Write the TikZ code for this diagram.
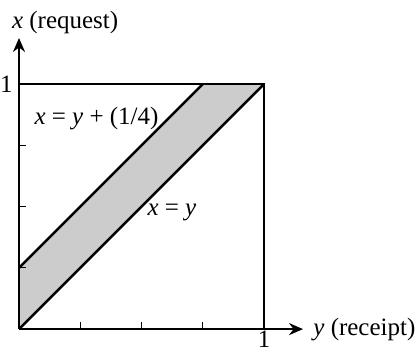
\documentclass[tikz,border=0pt]{standalone}
\usepackage{fontspec}
\setmainfont{Liberation Serif}
\usetikzlibrary{arrows.meta,positioning}
\tikzset{axis/.style={line width=1pt,-{Stealth[length=7pt,width=6pt]}},edge/.style={line width=1.3pt},tick/.style={line width=0.6pt},lbl/.style={font=\fontsize{12.5}{15}\selectfont,inner sep=1pt}}

\begin{document}
\begin{tikzpicture}[x=4.31cm,y=4.31cm]
\useasboundingbox (-0.0776,-0.0898) rectangle (1.620,1.343);
\coordinate (o) at (0,0);\coordinate (xt) at (0,1.188);\coordinate (yt) at (1.159,0);
\coordinate (p) at (0,0.25);\coordinate (q) at (0.75,1);\coordinate (r) at (1,1);
\coordinate (s) at (1,0);\coordinate (u) at (0,1);
\fill[black!20] (o)--(p)--(q)--(r)--cycle;
\draw[axis] (o)--(xt);\draw[axis] (o)--(yt);
\foreach \t in {0.25,0.5,0.75}{\draw[tick] (\t,0)--++(0,3.5pt);\draw[tick] (0,\t)--++(3.5pt,0);}
\draw[edge] (u)--(r)--(s);\draw[edge] (o)--(r);\draw[edge] (p)--(q);
\node[lbl] (xl) at (0.188,1.25) {\textit{x} (request)};
\node[lbl,right=4pt of yt] (yl) {\textit{y} (receipt)};
\node[lbl,left=2pt of u] (one1) {1};
\node[lbl,below=0pt of s] (one2) {1};
\node[lbl] (upper) at (0.316,0.861) {\textit{x} = \textit{y} + (1/4)};
\node[lbl] (lower) at (0.624,0.478) {\textit{x} = \textit{y}};
\end{tikzpicture}
\end{document}
